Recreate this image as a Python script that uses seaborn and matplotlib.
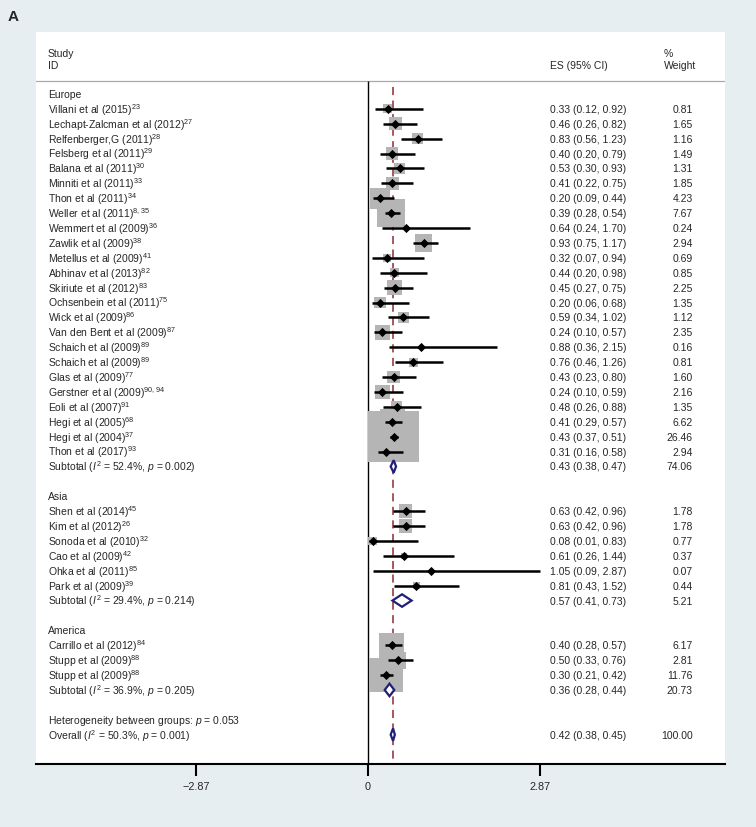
import numpy as np
import pandas as pd
import matplotlib
matplotlib.use("Agg")
import matplotlib.pyplot as plt
import seaborn as sns
from matplotlib.patches import Polygon

# ---- data ----
europe_labels = ["Villani et al (2015)$^{23}$", "Lechapt-Zalcman et al (2012)$^{27}$",
                 "Relfenberger,G (2011)$^{28}$", "Felsberg et al (2011)$^{29}$",
                 "Balana et al (2011)$^{30}$", "Minniti et al (2011)$^{33}$",
                 "Thon et al (2011)$^{34}$", "Weller et al (2011)$^{8,35}$",
                 "Wemmert et al (2009)$^{36}$", "Zawlik et al (2009)$^{38}$",
                 "Metellus et al (2009)$^{41}$", "Abhinav et al (2013)$^{82}$",
                 "Skiriute et al (2012)$^{83}$", "Ochsenbein et al (2011)$^{75}$",
                 "Wick et al (2009)$^{86}$", "Van den Bent et al (2009)$^{87}$",
                 "Schaich et al (2009)$^{89}$", "Schaich et al (2009)$^{89}$",
                 "Glas et al (2009)$^{77}$", "Gerstner et al (2009)$^{90,94}$",
                 "Eoli et al (2007)$^{91}$", "Hegi et al (2005)$^{68}$",
                 "Hegi et al (2004)$^{37}$", "Thon et al (2017)$^{93}$"]
europe_es = [0.33, 0.46, 0.83, 0.40, 0.53, 0.41, 0.20, 0.39, 0.64, 0.93, 0.32, 0.44,
             0.45, 0.20, 0.59, 0.24, 0.88, 0.76, 0.43, 0.24, 0.48, 0.41, 0.43, 0.31]
europe_lo = [0.12, 0.26, 0.56, 0.20, 0.30, 0.22, 0.09, 0.28, 0.24, 0.75, 0.07, 0.20,
             0.27, 0.06, 0.34, 0.10, 0.36, 0.46, 0.23, 0.10, 0.26, 0.29, 0.37, 0.16]
europe_hi = [0.92, 0.82, 1.23, 0.79, 0.93, 0.75, 0.44, 0.54, 1.70, 1.17, 0.94, 0.98,
             0.75, 0.68, 1.02, 0.57, 2.15, 1.26, 0.80, 0.59, 0.88, 0.57, 0.51, 0.58]
europe_wt = [0.81, 1.65, 1.16, 1.49, 1.31, 1.85, 4.23, 7.67, 0.24, 2.94, 0.69, 0.85,
             2.25, 1.35, 1.12, 2.35, 0.16, 0.81, 1.60, 2.16, 1.35, 6.62, 26.46, 2.94]
europe_sub = [0.43, 0.38, 0.47, 74.06]
europe_het = ["52.4%", "0.002"]

asia_labels = ["Shen et al (2014)$^{45}$", "Kim et al (2012)$^{26}$",
               "Sonoda et al (2010)$^{32}$", "Cao et al (2009)$^{42}$",
               "Ohka et al (2011)$^{85}$", "Park et al (2009)$^{39}$"]
asia_es = [0.63, 0.63, 0.08, 0.61, 1.05, 0.81]
asia_lo = [0.42, 0.42, 0.01, 0.26, 0.09, 0.43]
asia_hi = [0.96, 0.96, 0.83, 1.44, 2.87, 1.52]
asia_wt = [1.78, 1.78, 0.77, 0.37, 0.07, 0.44]
asia_sub = [0.57, 0.41, 0.73, 5.21]
asia_het = ["29.4%", "0.214"]

america_labels = ["Carrillo et al (2012)$^{84}$", "Stupp et al (2009)$^{88}$",
                  "Stupp et al (2009)$^{88}$"]
america_es = [0.40, 0.50, 0.30]
america_lo = [0.28, 0.33, 0.21]
america_hi = [0.57, 0.76, 0.42]
america_wt = [6.17, 2.81, 11.76]
america_sub = [0.36, 0.28, 0.44, 20.73]
america_het = ["36.9%", "0.205"]

group_names = ["Europe", "Asia", "America"]
between_p = "0.053"
overall = [0.42, 0.38, 0.45, 100.00]
overall_het = ["50.3%", "0.001"]
tick_vals = [-2.87, 0, 2.87]
tick_labels = ["\u22122.87", "0", "2.87"]

groups = [
    (europe_labels, europe_es, europe_lo, europe_hi, europe_wt, europe_sub, europe_het),
    (asia_labels, asia_es, asia_lo, asia_hi, asia_wt, asia_sub, asia_het),
    (america_labels, america_es, america_lo, america_hi, america_wt, america_sub, america_het),
]

# build row table
studies = []
subtotals = []
headers = []
r = 0
for name, g in zip(group_names, groups):
    labels, es, lo, hi, wt, sub, het = g
    headers.append((r, name))
    r += 1
    for i in range(len(labels)):
        studies.append(dict(row=r, label=labels[i], es=es[i], lo=lo[i], hi=hi[i], wt=wt[i]))
        r += 1
    subtotals.append(dict(row=r, es=sub[0], lo=sub[1], hi=sub[2], wt=sub[3],
                          label="Subtotal ($I^2$ = %s, $p$ = %s)" % (het[0], het[1])))
    r += 2
het_row = r
overall_row = r + 1
df = pd.DataFrame(studies)
sub_df = pd.DataFrame(subtotals)

# ---- style ----
sns.set_style("white")
plt.rcParams["font.family"] = ["Liberation Sans", "DejaVu Sans"]
plt.rcParams["mathtext.fontset"] = "custom"
plt.rcParams["mathtext.rm"] = "Liberation Sans"
plt.rcParams["mathtext.it"] = "Liberation Sans:italic"
plt.rcParams["mathtext.bf"] = "Liberation Sans:bold"

FS = 7.5
BG = "#e7eef2"
NAVY = "#1f1f78"
DASH = "#9e4a55"
BOX = "#b5b5b5"

fig = plt.figure(figsize=(7.56, 8.28), dpi=100, facecolor=BG)
ax = fig.add_axes([36 / 756, 63 / 828, 689 / 756, 732 / 828])
ax.set_facecolor("white")

ybot = 44.97
ytop = -4.16
hdr_line = -0.87
x_lab, x_es, x_wt, x_pct = -5.35, 3.04, 5.43, 4.95

ax.set_xlim(-5.55, 5.97)
ax.set_ylim(ybot, ytop)

# reference lines
ax.axhline(hdr_line, color="#a8a8a8", lw=0.9, zorder=1)
ax.vlines(0, hdr_line, ybot, color="black", lw=1.0, zorder=1)
ax.vlines(overall[0], -0.5, ybot, color=DASH, lw=1.3, linestyles=(0, (4.5, 3.0)), zorder=1)

# weight boxes (area proportional to weight)
sns.scatterplot(data=df, x="es", y="row", marker="s", s=df["wt"] * 51.8,
                color=BOX, linewidth=0, ax=ax, zorder=2, legend=False)
# confidence intervals
ax.hlines(df["row"], df["lo"], df["hi"], color="black", lw=1.8, zorder=3)
sns.scatterplot(data=df, x="es", y="row", marker="D", s=22, color="black",
                linewidth=0, ax=ax, zorder=4, legend=False)

# pooled diamonds
pooled = list(sub_df[["row", "es", "lo", "hi"]].itertuples(index=False))
pooled.append((overall_row, overall[0], overall[1], overall[2]))
for row, es, lo, hi in pooled:
    h = 0.42
    ax.add_patch(Polygon([[lo, row], [es, row - h], [hi, row], [es, row + h]],
                         closed=True, facecolor="white", edgecolor=NAVY, lw=1.6, zorder=5))

# text columns
ax.text(x_lab, -2.75, "Study", fontsize=FS, va="center")
ax.text(x_lab, -1.95, "ID", fontsize=FS, va="center")
ax.text(x_es, -1.95, "ES (95% CI)", fontsize=FS, va="center")
ax.text(x_pct, -2.75, "%", fontsize=FS, va="center")
ax.text(x_pct, -1.95, "Weight", fontsize=FS, va="center")

for row, name in headers:
    ax.text(x_lab, row, name, fontsize=FS, va="center")
for d in studies + subtotals:
    ax.text(x_lab, d["row"], d["label"], fontsize=FS, va="center")
    ax.text(x_es, d["row"], "%.2f (%.2f, %.2f)" % (d["es"], d["lo"], d["hi"]), fontsize=FS, va="center")
    ax.text(x_wt, d["row"], "%.2f" % d["wt"], fontsize=FS, va="center", ha="right")

ax.text(x_lab, het_row, "Heterogeneity between groups: $p$ = %s" % between_p, fontsize=FS, va="center")
ax.text(x_lab, overall_row, "Overall ($I^2$ = %s, $p$ = %s)" % (overall_het[0], overall_het[1]),
        fontsize=FS, va="center")
ax.text(x_es, overall_row, "%.2f (%.2f, %.2f)" % tuple(overall[:3]), fontsize=FS, va="center")
ax.text(x_wt, overall_row, "%.2f" % overall[3], fontsize=FS, va="center", ha="right")

# axis
for s in ["top", "left", "right"]:
    ax.spines[s].set_visible(False)
ax.spines["bottom"].set_linewidth(1.5)
ax.spines["bottom"].set_color("black")
ax.set_yticks([])
ax.set_xticks(tick_vals)
ax.set_xticklabels(tick_labels)
ax.tick_params(axis="x", direction="out", length=8.5, width=1.5, pad=4, labelsize=7.8,
               bottom=True, color="black")
ax.set_xlabel("")
ax.set_ylabel("")

fig.text(8 / 756, 1 - 17 / 828, "A", fontsize=11, fontweight="bold", va="center", ha="left")

fig.savefig("out.png", dpi=100, facecolor=BG)
